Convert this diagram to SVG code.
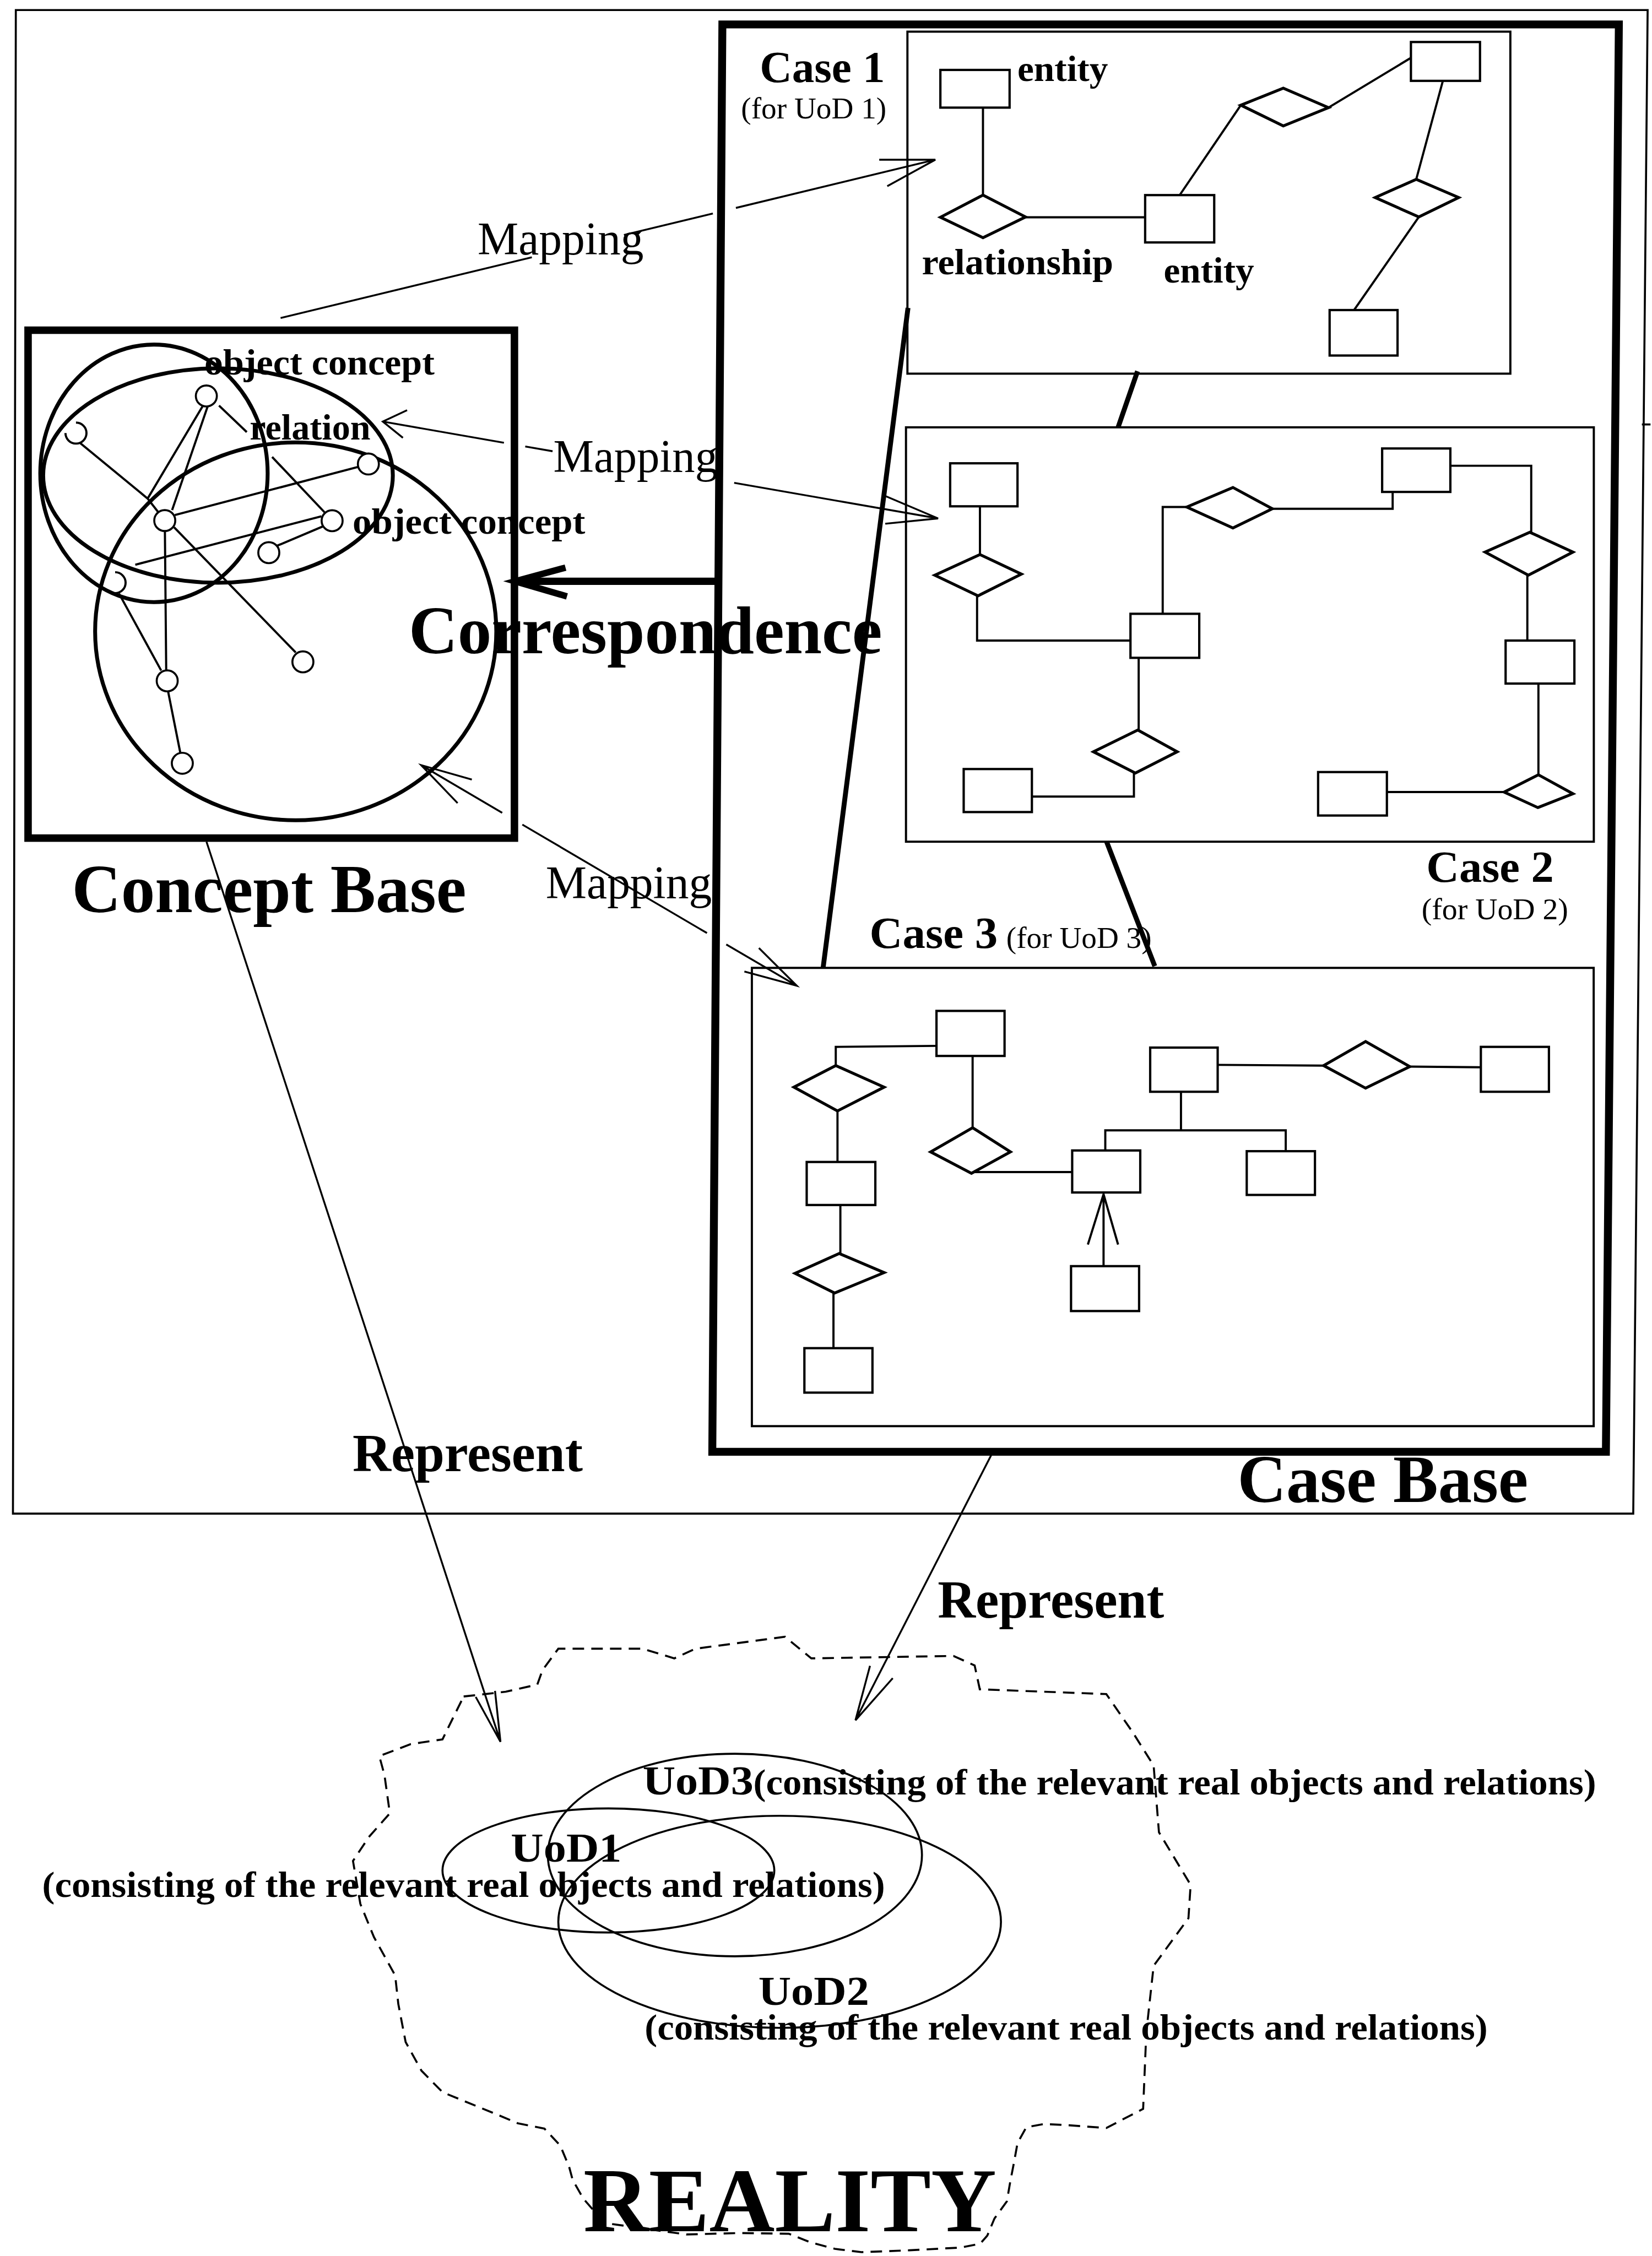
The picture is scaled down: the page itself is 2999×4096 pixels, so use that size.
<svg xmlns="http://www.w3.org/2000/svg" width="2999" height="4096" viewBox="0 0 2999 4096">
<defs>
<style>
.frame{fill:none;stroke:#000;stroke-width:1.4}
.thick{fill:none;stroke:#000;stroke-width:5.2}
.cbox{fill:none;stroke:#000;stroke-width:1.5}
.box{fill:#fff;stroke:#000;stroke-width:1.6}
.dia{fill:#fff;stroke:#000;stroke-width:2}
.ln{fill:none;stroke:#000;stroke-width:1.5}
.ell{fill:none;stroke:#000;stroke-width:2.7}
.node{fill:#fff;stroke:#000;stroke-width:1.4}
.con{fill:none;stroke:#000;stroke-width:1.3}
.link{fill:none;stroke:#000;stroke-width:3.4}
.uod{fill:none;stroke:#000;stroke-width:1.4}
.dash{fill:none;stroke:#000;stroke-width:1.4;stroke-dasharray:8 5}
.b{font-family:"Liberation Serif","Times New Roman",serif;font-weight:bold;fill:#000}
.r{font-family:"Liberation Serif","Times New Roman",serif;fill:#000}
</style>
</defs>
<rect width="2999" height="4096" fill="#fff"/>
<g transform="scale(2.6123)">

<g id="outer-frame">
<polygon class="frame" points="11,7 1145,7 1135,1052 9,1052"/>
<line class="frame" x1="1141" y1="295" x2="1147" y2="295"/>
</g>

<g id="concept-base">
<rect class="thick" x="19.5" y="229.5" width="338" height="353"/>
<ellipse class="ell" cx="107" cy="329" rx="79" ry="89.5"/>
<ellipse class="ell" cx="151.5" cy="330.5" rx="121.5" ry="74.5"/>
<ellipse class="ell" cx="205.5" cy="438.8" rx="139.4" ry="131.3"/>
<path class="ln" d="M141,282 L102.6,346.5 L110,356 M55.4,307.7 L102.6,346.5 M144.3,282.5 L119.6,354.5 M152.2,281.9 L171.5,300.3 M189.1,317.6 L225.5,356 M121.5,358 L249,324.5 M121,366.5 L205.5,453.5 M114.6,369.5 L115.5,465.7 M223.4,358.8 L94,392.5 M191,380 L224.5,365.8 M82.7,412.5 L112,466 M116.8,480.5 L125.3,523.2"/>
<circle class="node" cx="143.4" cy="275.2" r="7.3"/>
<circle class="node" cx="114.5" cy="361.8" r="7.3"/>
<circle class="node" cx="256" cy="322.5" r="7.3"/>
<circle class="node" cx="230.8" cy="361.9" r="7.3"/>
<circle class="node" cx="186.8" cy="384.1" r="7.3"/>
<circle class="node" cx="210.5" cy="460" r="7.3"/>
<circle class="node" cx="116.2" cy="473.2" r="7.3"/>
<circle class="node" cx="126.7" cy="530.5" r="7.3"/>
<path class="ln" d="M52.8,293.7 A7.3,7.3 0 1 1 45.5,301"/>
<path class="ln" d="M80,397.7 A7.3,7.3 0 0 1 80,412.3"/>
<text class="b" x="142" y="260.5" font-size="25" textLength="160" lengthAdjust="spacingAndGlyphs">object concept</text>
<text class="b" x="173.5" y="305.5" font-size="25" textLength="84" lengthAdjust="spacingAndGlyphs">relation</text>
<text class="b" x="245" y="371" font-size="25" textLength="161.7" lengthAdjust="spacingAndGlyphs">object concept</text>
<text class="b" x="50" y="634" font-size="48" textLength="274" lengthAdjust="spacingAndGlyphs">Concept Base</text>
</g>

<g id="case-base">
<polygon class="thick" points="502,17 1125,17 1116,1009 495,1009" style="stroke-width:5.5"/>
<text class="b" x="860" y="1044" font-size="47" textLength="202" lengthAdjust="spacingAndGlyphs">Case Base</text>
</g>

<g id="case1">
<rect class="cbox" x="630.6" y="22" width="419" height="237.7"/>
<text class="b" x="528" y="57" font-size="31" textLength="87" lengthAdjust="spacingAndGlyphs">Case 1</text>
<text class="r" x="515" y="82.4" font-size="21" textLength="101" lengthAdjust="spacingAndGlyphs">(for UoD 1)</text>
<path class="ln" d="M683.1,74.8 L683.1,135.6 M712.7,151 L795.8,151 M819.8,135.6 L862.3,73.1 M923.2,74.8 L980.5,40.2 M1002.7,56.2 L984.2,124.6 M986,150.8 L941,215.5"/>
<rect class="box" x="653.5" y="48.6" width="48.1" height="26.2"/>
<polygon class="dia" points="653.5,151 683.1,135.6 712.7,150.8 683.1,165.2"/>
<rect class="box" x="795.8" y="135.6" width="48" height="32.9"/>
<polygon class="dia" points="862.3,73.1 891.8,61.3 923.2,74.8 891.8,87.5"/>
<rect class="box" x="980.5" y="29.2" width="48" height="27"/>
<polygon class="dia" points="955.7,137.3 984.2,124.6 1013.7,137.3 986,150.8"/>
<rect class="box" x="924" y="215.5" width="47.2" height="31.6"/>
<text class="b" x="707" y="56.2" font-size="25" textLength="63" lengthAdjust="spacingAndGlyphs">entity</text>
<text class="b" x="640.6" y="190.5" font-size="25" textLength="133" lengthAdjust="spacingAndGlyphs">relationship</text>
<text class="b" x="808.7" y="196.4" font-size="25" textLength="62.8" lengthAdjust="spacingAndGlyphs">entity</text>
</g>

<g id="case2">
<rect class="cbox" x="629.6" y="297" width="478" height="288"/>
<path class="ln" d="M681,351.9 L681,385.4 M679,414.1 L679,445.2 L785.6,445.2 M808,426.6 L808,352.4 L824.7,352.4 M884.2,353.6 L967.8,353.6 L967.8,342 M1007.9,323.7 L1064.1,323.7 L1064.1,369.9 M1061.4,399.8 L1061.4,445.2 M1069.1,475.1 L1069.1,538.5 M1045.3,550.5 L963.8,550.5 M791.3,457.2 L791.3,507.4 M788,537.3 L788,553.6 L717.1,553.6"/>
<rect class="box" x="660.3" y="322" width="46.8" height="29.9"/>
<polygon class="dia" points="649.6,399.8 681,385.4 709.8,399 679.7,414.1"/>
<rect class="box" x="785.6" y="426.6" width="47.8" height="30.6"/>
<polygon class="dia" points="824.7,352.4 856.8,338.8 884.2,353.6 856.8,367"/>
<rect class="box" x="960.5" y="311.7" width="47.4" height="30.2"/>
<polygon class="dia" points="1032,383.7 1063.1,369.9 1093.1,383.7 1062.1,399.8"/>
<rect class="box" x="1046.3" y="445.2" width="47.8" height="29.9"/>
<polygon class="dia" points="1045.3,550.5 1069.1,538.5 1093.1,551.7 1068.7,561.3"/>
<rect class="box" x="916" y="536.6" width="47.8" height="30.2"/>
<polygon class="dia" points="759.9,522.5 790.7,507.4 818.1,522.5 789,537.3"/>
<rect class="box" x="669.7" y="534.5" width="47.4" height="29.9"/>
<text class="b" x="991.2" y="612.7" font-size="31" textLength="88.6" lengthAdjust="spacingAndGlyphs">Case 2</text>
<text class="r" x="987.9" y="639" font-size="21" textLength="101.9" lengthAdjust="spacingAndGlyphs">(for UoD 2)</text>
</g>

<g id="case3">
<rect class="cbox" x="522.5" y="672.7" width="585" height="318.5"/>
<path class="ln" d="M650.8,726.9 L580.8,727.6 L580.8,740.6 M582,772.1 L582,807.6 M584,837.5 L584,871.2 M579.2,898.7 L579.2,937 M675.9,733.9 L675.9,783.8 M675.1,814.6 L745.1,814.6 M768.1,799.6 L768.1,785.6 L893.5,785.6 L893.5,800.1 M820.7,785.6 L820.7,758.8 M846.2,740.1 L919.8,740.6 M979.7,741.3 L1029.1,741.8 M766.9,880 L766.9,830 M756,865 L766.9,830 L777,865"/>
<rect class="box" x="650.8" y="702.6" width="47.3" height="31.3"/>
<polygon class="dia" points="551.7,755.6 580.8,740.6 614.4,755.6 582,772.1"/>
<rect class="box" x="560.6" y="807.6" width="47.7" height="29.9"/>
<polygon class="dia" points="552.5,885 583.2,871.2 614.4,884.5 580,898.7"/>
<rect class="box" x="559" y="937" width="47.3" height="30.9"/>
<polygon class="dia" points="646.7,800.6 675.9,783.8 702.2,800.6 675.1,815.5"/>
<rect class="box" x="745.1" y="799.6" width="47.3" height="29.2"/>
<rect class="box" x="799.3" y="728.1" width="46.9" height="30.7"/>
<polygon class="dia" points="919.8,740.6 949,723.9 979.7,741.3 949,756.3"/>
<rect class="box" x="1029.1" y="727.6" width="47.3" height="31.2"/>
<rect class="box" x="866.4" y="800.1" width="47.4" height="30.4"/>
<rect class="box" x="744.3" y="880" width="47.3" height="31.2"/>
<text class="b" x="604.3" y="658.9" font-size="31" textLength="89" lengthAdjust="spacingAndGlyphs">Case 3</text>
<text class="r" x="699.3" y="658.9" font-size="21" textLength="101" lengthAdjust="spacingAndGlyphs">(for UoD 3)</text>
</g>

<g id="reality">
<path class="dash" d="M322.2,1179.1 L351.4,1175.8 L373.4,1170.8 L377,1160.8 L388,1145.9 L446.6,1145.9 L468.6,1152.6 L483.2,1145.9 L545.5,1137.6 L563.8,1152.6 L662.6,1150.9 L677.3,1157.5 L680.9,1174.1 L768.8,1177.4 L787.1,1203.9 L801.7,1227.1 L805.4,1273.5 L827.4,1310 L825.9,1333.2 L801.7,1366.3 L796.6,1412.7 L794.4,1465.7 L768.8,1479 L742.8,1477.1 L725.5,1476.2 L713.2,1478.5 L707.1,1489.5 L704.6,1503.3 L702.1,1516.1 L699.7,1530 L691.1,1541.9 L686.1,1553.8 L681.2,1559.4 L667.7,1562.1 L631.9,1564 L598.7,1565.3 L580.2,1563 L563,1558.4 L548.2,1552.5 L514,1552 L477,1553 L420,1545 L405.4,1528.1 L398,1515.2 L395.5,1506 L389.4,1491.3 L378.3,1479.4 L359.8,1475.7 L344.1,1469.1 L307.5,1454.1 L292.9,1439.2 L281.9,1419.3 L276.8,1392.8 L274.6,1372.9 L259.9,1346.4 L250.4,1323.2 L245.3,1293.4 L256.3,1276.8 L270.9,1260.3 L267.2,1233.8 L263.6,1220.5 L285.5,1212.2 L307.5,1208.9 L314.8,1194 Z"/>
<text class="b" x="405.4" y="1550.6" font-size="63" textLength="287" lengthAdjust="spacingAndGlyphs">REALITY</text>
</g>

<g id="uod1">
<ellipse class="uod" cx="422.8" cy="1300" rx="115.3" ry="43.1"/>
<text class="b" x="355" y="1294" font-size="28" textLength="77" lengthAdjust="spacingAndGlyphs">UoD1</text>
<text class="b" x="29.3" y="1318.3" font-size="25" textLength="585.7" lengthAdjust="spacingAndGlyphs">(consisting of the relevant real objects and relations)</text>
</g>
<g id="uod3">
<ellipse class="uod" cx="510.7" cy="1289.3" rx="130" ry="70.4"/>
<text class="b" x="446.6" y="1247" font-size="28" textLength="77" lengthAdjust="spacingAndGlyphs">UoD3</text>
<text class="b" x="523.5" y="1247" font-size="25" textLength="585.7" lengthAdjust="spacingAndGlyphs">(consisting of the relevant real objects and relations)</text>
</g>
<g id="uod2">
<ellipse class="uod" cx="541.8" cy="1335.7" rx="153.8" ry="73.7"/>
<text class="b" x="527" y="1393.5" font-size="28" textLength="77" lengthAdjust="spacingAndGlyphs">UoD2</text>
<text class="b" x="448" y="1417.7" font-size="25" textLength="585.8" lengthAdjust="spacingAndGlyphs">(consisting of the relevant real objects and relations)</text>
</g>

<g id="connectors">
<path class="link" d="M790.5,258 L777,297 M769,585 L802.5,671.5 M631,214 L572,672.7"/>
<path class="con" d="M195,221 L369.6,178.8 M433.6,163.3 L495.4,148.4 M511.4,144.5 L650,111 M611,111 L650,111 L616.6,129.4"/>
<text class="r" x="331.9" y="176.9" font-size="32" textLength="115.4" lengthAdjust="spacingAndGlyphs">Mapping</text>
<path class="con" d="M266,293 L350.2,307.7 M365,310.3 L384,313.6 M510.2,335.6 L651.9,360.3 M282.9,285.1 L266,293 L280,304.3 M615.2,344.7 L651.9,360.3 L615.2,364"/>
<text class="r" x="384.5" y="327.9" font-size="32" textLength="114.3" lengthAdjust="spacingAndGlyphs">Mapping</text>
<path class="con" d="M292.7,531.8 L349,564.9 M363,573.1 L491.3,648.5 M504.7,656.4 L553.7,685.1 M327.9,541.8 L292.7,531.8 L318,558.2 M527.4,658.9 L553.7,685.1 L517.3,675.2"/>
<text class="r" x="379.3" y="624.3" font-size="32" textLength="115.4" lengthAdjust="spacingAndGlyphs">Mapping</text>
<path d="M497,404 L359,404" fill="none" stroke="#000" stroke-width="5"/>
<path d="M393,394.5 L358,404 L394,414.5" fill="none" stroke="#000" stroke-width="4.5"/>
<text class="b" x="284" y="454" font-size="47" textLength="329" lengthAdjust="spacingAndGlyphs">Correspondence</text>
<path class="con" d="M143.5,585 L347.8,1210.6 M344,1175.2 L347.8,1210.6 L330.6,1179.4"/>
<text class="b" x="245" y="1022.4" font-size="37" textLength="160" lengthAdjust="spacingAndGlyphs">Represent</text>
<path class="con" d="M689.5,1010 L594.5,1195.6 M620.4,1166.4 L594.5,1195.6 L604.6,1157.8"/>
<text class="b" x="651.6" y="1124.4" font-size="37" textLength="157.4" lengthAdjust="spacingAndGlyphs">Represent</text>
</g>

</g>
</svg>
